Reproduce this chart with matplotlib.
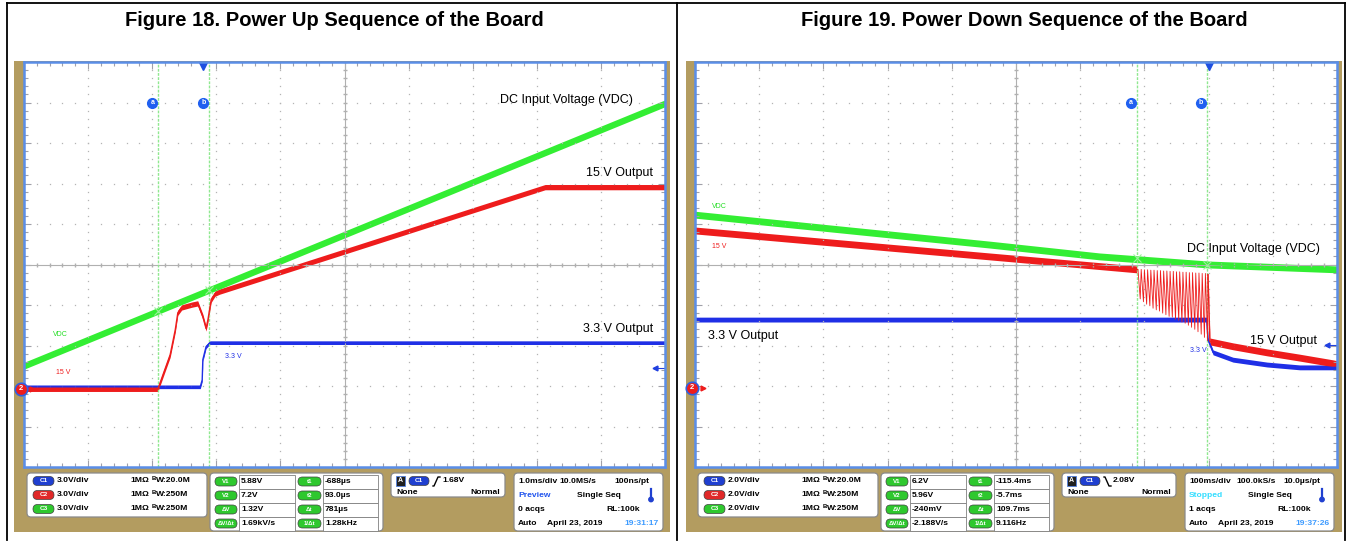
import numpy as np
import matplotlib.pyplot as plt
from matplotlib.patches import Rectangle, FancyBboxPatch, Circle

plt.rcParams['font.family'] = ['Liberation Sans', 'DejaVu Sans']

W, H = 1347, 543

titles = ['Figure 18. Power Up Sequence of the Board',
          'Figure 19. Power Down Sequence of the Board']

# traces in screen divisions: t = 0..10 (horizontal), v = -5..5 (vertical)
up_vdc_t = [0.0, 10.0]
up_vdc_v = [-2.50, 3.98]
up_15v_t = [0.0, 2.09, 2.18, 2.28, 2.36, 2.40, 2.46, 2.62, 2.71, 2.79, 2.84,
            2.87, 2.92, 2.98, 3.05, 8.13, 10.0]
up_15v_v = [-3.07, -3.07, -2.67, -2.23, -1.61, -1.19, -1.06, -0.99, -0.96,
            -1.29, -1.58, -1.36, -0.87, -0.72, -0.67, 1.91, 1.91]
up_33v_t = [0.0, 2.75, 2.78, 2.79, 2.84, 2.90, 10.0]
up_33v_v = [-3.02, -3.02, -2.85, -2.35, -2.03, -1.93, -1.93]
up_cursors = [2.09, 2.89]
up_cursor_v = [-1.16, -0.64]
up_trig_t = 2.79
up_gnd = -3.07
up_trig_lvl = -2.55

dn_vdc_t = [0.0, 4.60, 6.30, 8.00, 10.0]
dn_vdc_v = [1.23, 0.49, 0.20, 0.00, -0.12]
dn_15v_t = [0.0, 6.88]
dn_15v_v = [0.84, -0.12]
# ringing of the 15 V rail between the cursors
ring_t = [6.90, 6.95, 7.00, 7.05, 7.10, 7.15, 7.20, 7.25, 7.30, 7.35, 7.40,
          7.45, 7.50, 7.55, 7.60, 7.65, 7.70, 7.75, 7.80, 7.85, 7.90, 7.95]
ring_hi = [-0.12, -0.12, -0.13, -0.13, -0.14, -0.14, -0.15, -0.15, -0.16, -0.16,
           -0.17, -0.17, -0.18, -0.18, -0.19, -0.19, -0.20, -0.20, -0.21, -0.21,
           -0.22, -0.22]
ring_lo = [-0.85, -0.92, -0.98, -1.02, -1.08, -1.12, -1.15, -1.20, -1.24, -1.28,
           -1.30, -1.35, -1.38, -1.42, -1.45, -1.50, -1.55, -1.60, -1.66, -1.72,
           -1.80, -1.88]
dn_15v_tail_t = [7.99, 8.02, 8.38, 8.91, 9.42, 9.94, 10.0]
dn_15v_tail_v = [-0.25, -1.90, -2.02, -2.17, -2.30, -2.44, -2.46]
dn_33v_t = [0.0, 7.97, 7.99, 8.07, 8.38, 8.91, 9.42, 9.94, 10.0]
dn_33v_v = [-1.36, -1.36, -1.85, -2.17, -2.35, -2.47, -2.54, -2.54, -2.54]
dn_cursors = [6.88, 7.97]
dn_cursor_v = [0.17, 0.00]
dn_trig_t = 8.0
dn_gnd = -3.04
dn_trig_lvl = -1.98

# readout panel text
ch_names = ['C1', 'C2', 'C3']
ch_bw = ['20.0M', '250M', '250M']
up_scale = ['3.0V/div', '3.0V/div', '3.0V/div']
dn_scale = ['2.0V/div', '2.0V/div', '2.0V/div']
cur_v_names = ['V1', 'V2', 'ΔV', 'ΔV/Δt']
cur_t_names = ['t1', 't2', 'Δt', '1/Δt']
up_cur_v = ['5.88V', '7.2V', '1.32V', '1.69kV/s']
up_cur_t = ['-688µs', '93.0µs', '781µs', '1.28kHz']
dn_cur_v = ['6.2V', '5.96V', '-240mV', '-2.188V/s']
dn_cur_t = ['-115.4ms', '-5.7ms', '109.7ms', '9.116Hz']
up_trig = '1.68V'
dn_trig = '2.08V'
up_hor = ['1.0ms/div', '10.0MS/s', '100ns/pt']
dn_hor = ['100ms/div', '100.0kS/s', '10.0µs/pt']
up_state, dn_state = 'Preview', 'Stopped'
up_acqs, dn_acqs = '0 acqs', '1 acqs'
up_clock, dn_clock = '19:31:17', '19:37:26'

GREEN = '#33ee33'
RED = '#ee1c1c'
BLUE = '#1f2fe6'
PILL = {'C1': '#1f3fd0', 'C2': '#e02828', 'C3': '#2ec82e'}
TAN = '#b39c60'
EDGE = '#5a8ee8'
FS = 6.1

fig = plt.figure(figsize=(W / 100, H / 100), dpi=100)
bg = fig.add_axes([0, 0, 1, 1], zorder=0)
bg.set_xlim(0, W)
bg.set_ylim(H, 0)
bg.axis('off')
top = fig.add_axes([0, 0, 1, 1], zorder=5)
top.set_xlim(0, W)
top.set_ylim(H, 0)
top.axis('off')
top.patch.set_visible(False)

# table frame
bg.plot([7, 1345], [3, 3], color='black', lw=1.3)
for x in [7, 677, 1345]:
    bg.plot([x, x], [3, 540], color='black', lw=1.3)
bg.text(334, 21, titles[0], ha='center', va='center', fontsize=14.5, fontweight='bold')
bg.text(1024, 21, titles[1], ha='center', va='center', fontsize=14.5, fontweight='bold')


def rbox(x0, y0, x1, y1, fc='white', ec='#8a8a8a', r=4, lw=0.9, ax=bg):
    ax.add_patch(FancyBboxPatch((x0, y0), x1 - x0, y1 - y0,
                                boxstyle='round,pad=0,rounding_size=%g' % r,
                                fc=fc, ec=ec, lw=lw))


def pill(x, y, w, label, col, fs=4.6):
    rbox(x, y - 4.5, x + w, y + 4.5, fc=col, ec='#404040', r=4.5, lw=0.5)
    bg.text(x + w / 2, y, label, ha='center', va='center', color='white',
            fontsize=fs, fontweight='bold')


def txt(x, y, s, ha='left', color='black', fs=FS):
    bg.text(x, y, s, ha=ha, va='center', color=color, fontsize=fs, fontweight='bold')


def info(ox, scale, cur_v, cur_t, trig, rising, hor, hor_x, state, state_col, acqs, clock):
    # channels
    rbox(ox + 3, 473, ox + 183, 517)
    for k, name in enumerate(ch_names):
        y = 481 + 14 * k
        pill(ox + 9, y, 21, name, PILL[name])
        txt(ox + 33, y, scale[k])
        txt(ox + 106, y, '1MΩ')
        txt(ox + 127.5, y - 2.5, 'B', fs=4.3)
        txt(ox + 132, y, 'W:' + ch_bw[k])
    # cursors
    rbox(ox + 186, 473, ox + 359, 531)
    for k in range(4):
        y = 481.5 + 14 * k
        bg.add_patch(Rectangle((ox + 215, y - 7), 56, 14, fc='white', ec='#808080', lw=0.6))
        bg.add_patch(Rectangle((ox + 299, y - 7), 55, 14, fc='white', ec='#808080', lw=0.6))
        pill(ox + 191, y, 22, cur_v_names[k], PILL['C3'], fs=4.4)
        pill(ox + 274, y, 23, cur_t_names[k], PILL['C3'], fs=4.4)
        txt(ox + 217, y, cur_v[k])
        txt(ox + 301, y, cur_t[k])
    # trigger
    rbox(ox + 367, 473, ox + 481, 497)
    bg.add_patch(Rectangle((ox + 372, 476), 9, 10, fc='#202020', ec='#5080e0', lw=0.6))
    bg.text(ox + 376.5, 480.5, 'A', ha='center', va='center', color='white', fontsize=5, fontweight='bold')
    pill(ox + 385, 481, 20, 'C1', PILL['C1'])
    if rising:
        bg.plot([ox + 409, ox + 410, ox + 414, ox + 416], [486, 486, 477, 477], color='black', lw=1)
    else:
        bg.plot([ox + 409, ox + 410, ox + 414, ox + 416], [477, 477, 486, 486], color='black', lw=1)
    txt(ox + 418, 481, trig)
    txt(ox + 372, 492, 'None')
    txt(ox + 476, 492, 'Normal', ha='right')
    # acquisition
    rbox(ox + 490, 473, ox + 639, 531)
    txt(ox + 494, 481.5, hor[0])
    txt(ox + hor_x, 481.5, hor[1])
    txt(ox + 625, 481.5, hor[2], ha='right')
    txt(ox + 494, 495.5, state, color=state_col)
    txt(ox + 553, 495.5, 'Single Seq')
    bg.plot([ox + 627, ox + 627], [489, 498], color='#2040d0', lw=1.6)
    bg.add_patch(Circle((ox + 627, 499.5), 2.2, color='#2040d0'))
    txt(ox + 494, 509.5, acqs)
    txt(ox + 616, 509.5, 'RL:100k', ha='right')
    txt(ox + 494, 523.5, 'Auto')
    txt(ox + 523, 523.5, 'April 23, 2019')
    txt(ox + 635, 523.5, clock, ha='right', color='#3d9bff')


def band(ax, t, v, col, half, lw=1.0):
    t = np.asarray(t)
    v = np.asarray(v)
    ax.fill_between(t, v - half, v + half, color=col, lw=0)
    ax.plot(t, v, color=col, lw=lw)


def scope(x0, y0, x1, y1):
    ax = fig.add_axes([x0 / W, 1 - y1 / H, (x1 - x0) / W, (y1 - y0) / H], zorder=2)
    ax.set_xlim(0, 10)
    ax.set_ylim(-5, 5)
    for s in ax.spines.values():
        s.set_color(EDGE)
        s.set_linewidth(1.8)
    ax.set_xticks(range(11))
    ax.set_yticks(range(-5, 6))
    ax.set_xticks(np.arange(0, 10.01, 0.2), minor=True)
    ax.set_yticks(np.arange(-5, 5.01, 0.2), minor=True)
    ax.tick_params(which='both', direction='in', top=True, right=True,
                   labelbottom=False, labelleft=False, color='#a0a0a8', width=0.8)
    ax.tick_params(which='major', length=5)
    ax.tick_params(which='minor', length=3)
    mx = np.arange(0, 10.01, 0.2)
    my = np.arange(-5, 5.01, 0.2)
    for i in range(1, 10):
        if i != 5:
            ax.plot([i] * len(my), my, ls='none', marker='s', ms=0.9, mew=0, color='#b4b4b4')
    for j in range(-4, 5):
        if j != 0:
            ax.plot(mx, [j] * len(mx), ls='none', marker='s', ms=0.9, mew=0, color='#b4b4b4')
    ax.axhline(0, color='#b0b0b0', lw=0.8)
    ax.axvline(5, color='#b0b0b0', lw=0.8)
    ax.plot(mx, [0] * len(mx), ls='none', marker='|', ms=3, color='#b0b0b0')
    ax.plot([5] * len(my), my, ls='none', marker='_', ms=3, color='#b0b0b0')
    return ax


# left screenshot
bg.add_patch(Rectangle((14, 61), 656, 471, fc=TAN, lw=0))
info(24, up_scale, up_cur_v, up_cur_t, up_trig, True, up_hor, 535, up_state, '#2255ee',
     up_acqs, up_clock)
ax1 = scope(24, 62, 665, 467)
for c in up_cursors:
    ax1.axvline(c, color='#8fe88f', lw=1.0, ls=(0, (2, 1)))
band(ax1, up_33v_t, up_33v_v, BLUE, 0.045)
band(ax1, up_15v_t, up_15v_v, RED, 0.065)
band(ax1, up_vdc_t, up_vdc_v, GREEN, 0.085)
ax1.plot(up_cursors, up_cursor_v, ls='none', marker='x', ms=6, mew=0.8, color='#9ef09e')
ax1.plot([up_trig_t], [4.9], marker='v', ms=5.5, color='#1f4fe0', clip_on=False)

# right screenshot
bg.add_patch(Rectangle((686, 61), 656, 471, fc=TAN, lw=0))
info(695, dn_scale, dn_cur_v, dn_cur_t, dn_trig, False, dn_hor, 541, dn_state, '#33ddff',
     dn_acqs, dn_clock)
ax2 = scope(695, 62, 1337, 467)
for c in dn_cursors:
    ax2.axvline(c, color='#8fe88f', lw=1.0, ls=(0, (2, 1)))
band(ax2, dn_33v_t, dn_33v_v, BLUE, 0.06)
band(ax2, dn_15v_t, dn_15v_v, RED, 0.085)
rt, rv = [dn_15v_t[-1]], [dn_15v_v[-1]]
for t, hi, lo in zip(ring_t, ring_hi, ring_lo):
    rt += [t, t + 0.035]
    rv += [hi, lo]
rt.append(dn_15v_tail_t[0])
rv.append(dn_15v_tail_v[0])
ax2.plot(rt, rv, color=RED, lw=0.6)
band(ax2, dn_15v_tail_t, dn_15v_tail_v, RED, 0.085)
band(ax2, dn_vdc_t, dn_vdc_v, GREEN, 0.085)
ax2.plot(dn_cursors, dn_cursor_v, ls='none', marker='x', ms=6, mew=0.8, color='#9ef09e')
ax2.plot([dn_trig_t], [4.9], marker='v', ms=5.5, color='#1f4fe0', clip_on=False)

# cursor tags, ground and trigger markers
for ax, gnd, lvl in [(ax1, up_gnd, up_trig_lvl), (ax2, dn_gnd, dn_trig_lvl)]:
    ax.plot([-0.05], [gnd], marker='o', ms=9, mfc=RED, mec='#3060e0', mew=1.2, clip_on=False, zorder=6)
    ax.text(-0.05, gnd, '2', ha='center', va='center', color='white', fontsize=5.5,
            fontweight='bold', zorder=7, clip_on=False)
    ax.plot([0.12], [gnd], marker='>', ms=3.5, color=RED, clip_on=False, zorder=6)
    ax.plot([9.85, 10], [lvl, lvl], color='#2040e0', lw=0.8)
    ax.plot([9.85], [lvl], marker='<', ms=3.5, color='#2040e0')
for ax, cur in [(ax1, up_cursors), (ax2, dn_cursors)]:
    for c, lab in zip(cur, ['a', 'b']):
        ax.plot([c - 0.09], [4.0], marker='o', ms=7, color='#2060f0', zorder=6)
        ax.text(c - 0.09, 4.0, lab, ha='center', va='center', color='white', fontsize=5,
                fontweight='bold', zorder=7)

# annotations
top.text(633, 100, 'DC Input Voltage (VDC)', ha='right', va='center', fontsize=9)
top.text(653, 173, '15 V Output', ha='right', va='center', fontsize=9)
top.text(653, 329, '3.3 V Output', ha='right', va='center', fontsize=9)
top.text(53, 335, 'VDC', va='center', fontsize=5, color='#22dd22')
top.text(56, 372, '15 V', va='center', fontsize=5, color=RED)
top.text(225, 357, '3.3 V', va='center', fontsize=5, color=BLUE)

top.text(1187, 249, 'DC Input Voltage (VDC)', va='center', fontsize=9)
top.text(708, 336, '3.3 V Output', va='center', fontsize=9)
top.text(1250, 341, '15 V Output', va='center', fontsize=9)
top.text(712, 206, 'VDC', va='center', fontsize=5, color='#22dd22')
top.text(712, 247, '15 V', va='center', fontsize=5, color=RED)
top.text(1190, 350, '3.3 V', va='center', fontsize=5, color=BLUE)

fig.savefig('out.png', dpi=100)
